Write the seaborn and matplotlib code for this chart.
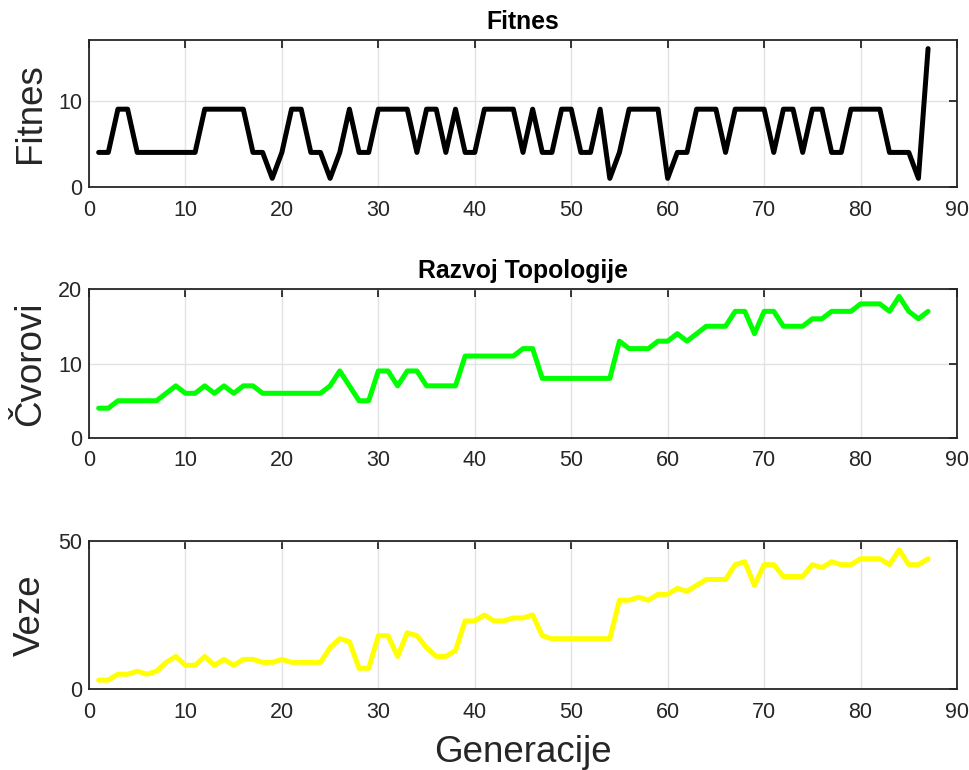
import numpy as np
import pandas as pd
import matplotlib
matplotlib.use("Agg")
import matplotlib.pyplot as plt
import seaborn as sns

generations = list(range(1, 88))

fitness = [4, 4, 9, 9, 4, 4, 4, 4, 4, 4, 4, 9, 9, 9, 9, 9, 4, 4, 1, 4,
           9, 9, 4, 4, 1, 4, 9, 4, 4, 9, 9, 9, 9, 4, 9, 9, 4, 9, 4, 4,
           9, 9, 9, 9, 4, 9, 4, 4, 9, 9, 4, 4, 9, 1, 4, 9, 9, 9, 9, 1,
           4, 4, 9, 9, 9, 4, 9, 9, 9, 9, 4, 9, 9, 4, 9, 9, 4, 4, 9, 9,
           9, 9, 4, 4, 4, 1, 16]

nodes = [4, 4, 5, 5, 5, 5, 5, 6, 7, 6, 6, 7, 6, 7, 6, 7, 7, 6, 6, 6,
         6, 6, 6, 6, 7, 9, 7, 5, 5, 9, 9, 7, 9, 9, 7, 7, 7, 7, 11, 11,
         11, 11, 11, 11, 12, 12, 8, 8, 8, 8, 8, 8, 8, 8, 13, 12, 12, 12, 13, 13,
         14, 13, 14, 15, 15, 15, 17, 17, 14, 17, 17, 15, 15, 15, 16, 16, 17, 17, 17, 18,
         18, 18, 17, 19, 17, 16, 17]

edges = [3, 3, 5, 5, 6, 5, 6, 9, 11, 8, 8, 11, 8, 10, 8, 10, 10, 9, 9, 10,
         9, 9, 9, 9, 14, 17, 16, 7, 7, 18, 18, 11, 19, 18, 14, 11, 11, 13, 23, 23,
         25, 23, 23, 24, 24, 25, 18, 17, 17, 17, 17, 17, 17, 17, 30, 30, 31, 30, 32, 32,
         34, 33, 35, 37, 37, 37, 42, 43, 35, 42, 42, 38, 38, 38, 42, 41, 43, 42, 42, 44,
         44, 44, 42, 47, 42, 42, 44]

df = pd.DataFrame({"gen": generations, "fitness": fitness,
                   "nodes": nodes, "edges": edges})

sns.set_theme(style="white")
plt.rcParams["font.family"] = ["Liberation Sans", "DejaVu Sans"]
ink = "#262626"

fig = plt.figure(figsize=(9.7, 7.7), dpi=100)
left, width = 89 / 970, 868 / 970
boxes = [(187, 147), (438, 149), (689, 148)]

panels = [
    ("fitness", "black", "Fitnes", "Fitnes", (0, 17), [0, 10]),
    ("nodes", "#00ff00", "Razvoj Topologije", "Čvorovi", (0, 20), [0, 10, 20]),
    ("edges", "#ffff00", None, "Veze", (0, 50), [0, 50]),
]

for (col, color, title, ylabel, ylim, yticks), (bot, h) in zip(panels, boxes):
    ax = fig.add_axes([left, 1 - bot / 770, width, h / 770])
    sns.lineplot(data=df, x="gen", y=col, color=color, linewidth=3.6, ax=ax)
    ax.set_xlim(0, 90)
    ax.set_ylim(*ylim)
    ax.set_xticks(range(0, 91, 10))
    ax.set_yticks(yticks)
    ax.grid(True, color="#e3e3e3", linewidth=1.0)
    ax.set_axisbelow(True)
    for s in ax.spines.values():
        s.set_visible(True)
        s.set_color(ink)
        s.set_linewidth(1.3)
    ax.tick_params(direction="in", length=6, width=1.3, color=ink,
                   labelcolor=ink, labelsize=15.5, top=True, right=True)
    ax.tick_params(axis="x", pad=9)
    ax.tick_params(axis="y", pad=5)
    ax.set_xlabel("")
    ax.set_ylabel(ylabel, fontsize=26.5, color=ink, labelpad=7)
    if title:
        ax.set_title(title, fontsize=17.8, fontweight="bold", color="black", pad=8)
    last = ax

last.set_xlabel("Generacije", fontsize=26.5, color=ink, labelpad=9)

fig.savefig("out.png", dpi=100)
